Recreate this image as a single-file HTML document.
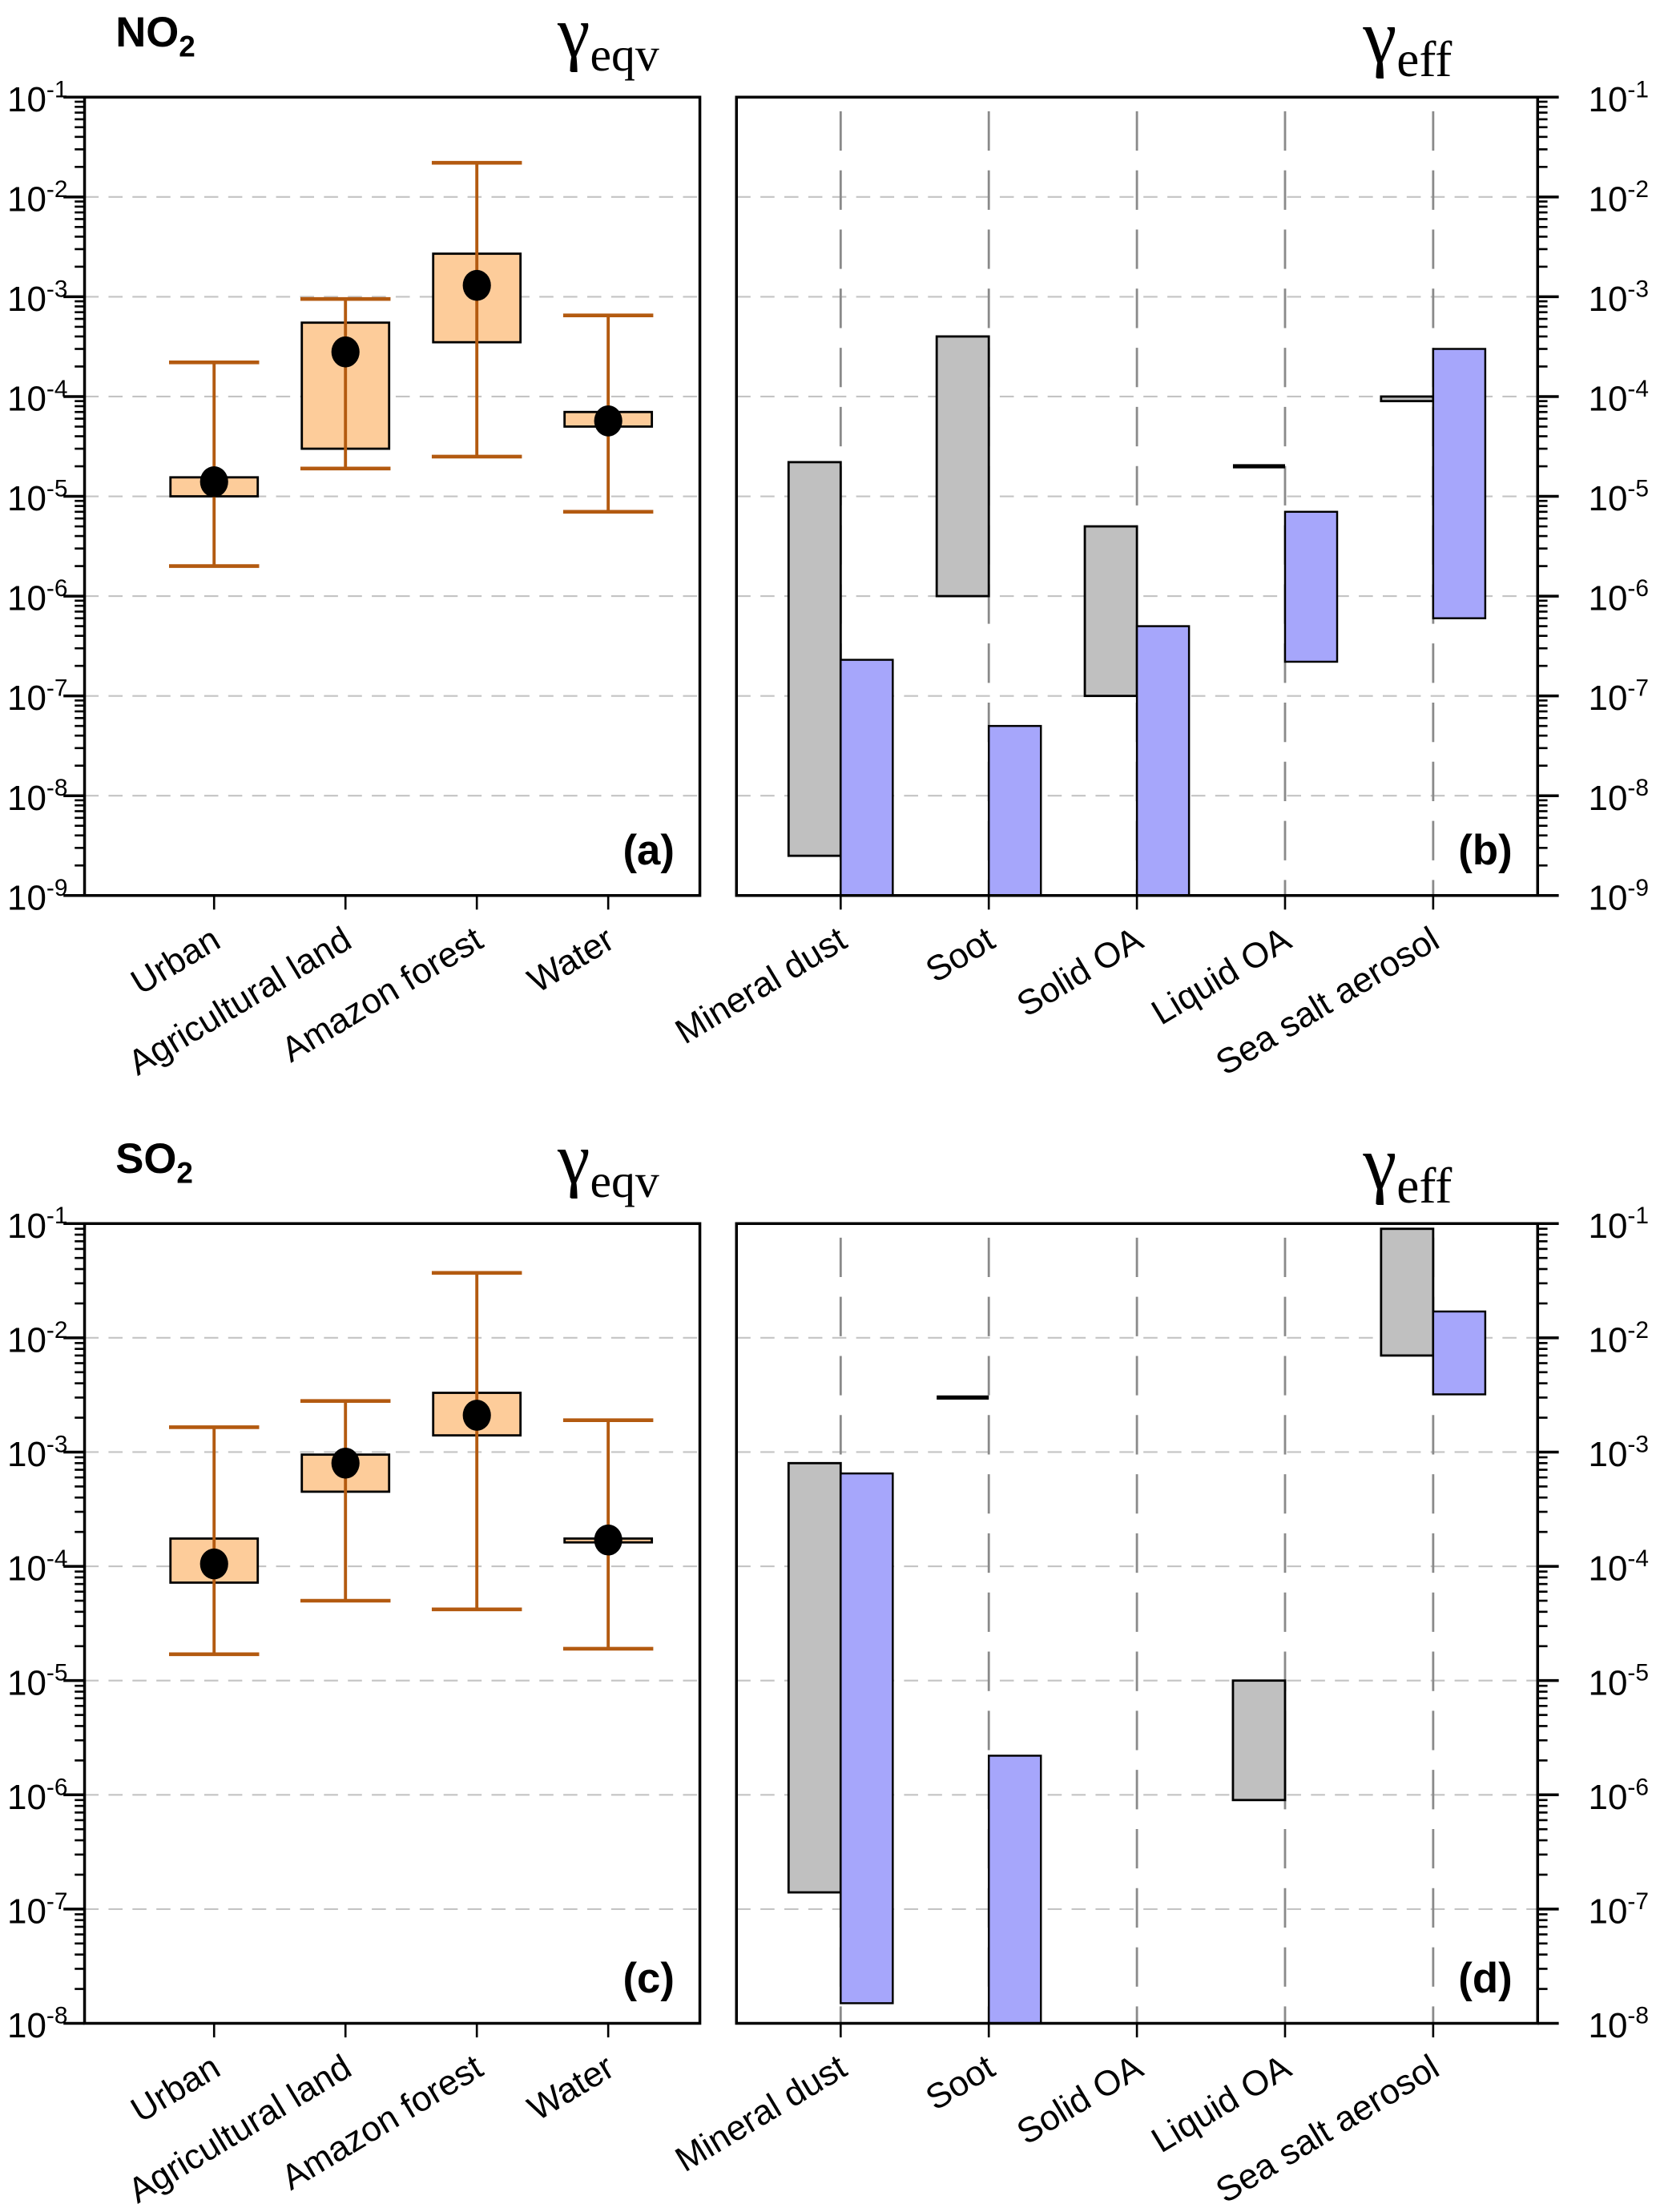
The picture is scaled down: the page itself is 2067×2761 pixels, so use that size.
<!DOCTYPE html>
<html><head><meta charset="utf-8">
<style>
html,body{margin:0;padding:0;background:#fff;}
svg{display:block;}
</style></head>
<body>
<svg id="fig" xmlns="http://www.w3.org/2000/svg" width="2067" height="2761" viewBox="0 0 1176 1571" font-family="Liberation Sans, sans-serif">
<rect x="0" y="0" width="1176" height="1571" fill="#fff"/>
<text x="82" y="33" font-size="30" font-weight="bold">NO<tspan font-size="21" dy="7">2</tspan></text>
<text x="396" y="40" font-size="52" font-family="Liberation Serif, serif">γ<tspan font-size="34" dy="10">eqv</tspan></text>
<text x="968" y="44" font-size="54" font-family="Liberation Serif, serif">γ<tspan font-size="36" dy="10">eff</tspan></text>
<text x="82" y="833" font-size="30" font-weight="bold">SO<tspan font-size="21" dy="7">2</tspan></text>
<text x="396" y="840" font-size="52" font-family="Liberation Serif, serif">γ<tspan font-size="34" dy="10">eqv</tspan></text>
<text x="968" y="844" font-size="54" font-family="Liberation Serif, serif">γ<tspan font-size="36" dy="10">eff</tspan></text>
</svg>
<script>
// ---- data ----
const catsEnv = ["Urban","Agricultural land","Amazon forest","Water"];
const catsAer = ["Mineral dust","Soot","Solid OA","Liquid OA","Sea salt aerosol"];
// NO2 gamma_eqv
const no2WhiskHi = [2.2e-4, 9.5e-4, 2.2e-2, 6.5e-4];
const no2WhiskLo = [2e-6, 1.9e-5, 2.5e-5, 7e-6];
const no2BoxHi = [1.55e-5, 5.5e-4, 2.7e-3, 7e-5];
const no2BoxLo = [1e-5, 3e-5, 3.5e-4, 5e-5];
const no2Mean = [1.4e-5, 2.8e-4, 1.3e-3, 5.7e-5];
// NO2 gamma_eff (null = no bar)
const no2GreyHi = [2.2e-5, 4e-4, 5e-6, 2e-5, 1.0e-4];
const no2GreyLo = [2.5e-9, 1e-6, 1e-7, 2e-5, 9e-5];
const no2BlueHi = [2.3e-7, 5e-8, 5e-7, 7e-6, 3e-4];
const no2BlueLo = [1e-9, 1e-9, 1e-9, 2.2e-7, 6e-7];
// SO2 gamma_eqv
const so2WhiskHi = [1.65e-3, 2.8e-3, 3.7e-2, 1.9e-3];
const so2WhiskLo = [1.7e-5, 5e-5, 4.2e-5, 1.9e-5];
const so2BoxHi = [1.75e-4, 9.5e-4, 3.3e-3, 1.75e-4];
const so2BoxLo = [7.2e-5, 4.5e-4, 1.4e-3, 1.62e-4];
const so2Mean = [1.05e-4, 8e-4, 2.1e-3, 1.7e-4];
// SO2 gamma_eff
const so2GreyHi = [8e-4, 3e-3, null, 1e-5, 9e-2];
const so2GreyLo = [1.4e-7, 3e-3, null, 9e-7, 7e-3];
const so2BlueHi = [6.5e-4, 2.2e-6, null, null, 1.7e-2];
const so2BlueLo = [1.5e-8, 1e-8, null, null, 3.2e-3];
const topExps = [-1,-2,-3,-4,-5,-6,-7,-8,-9];
const botExps = [-1,-2,-3,-4,-5,-6,-7,-8];

const NS = "http://www.w3.org/2000/svg";
const svg = document.getElementById("fig");
function mk(tag, attrs, parent){
  const e = document.createElementNS(NS, tag);
  for (const k in attrs) e.setAttribute(k, attrs[k]);
  (parent||svg).appendChild(e);
  return e;
}
function logScale(top, bot, emax, emin){
  return v => top + (emax - Math.log10(v)) / (emax - emin) * (bot - top);
}
function catScale(x0, pad, step){
  return i => x0 + pad + step * i;
}
function supLabel(x, y, e, anchor, name){
  const t = mk("text", {x:x, y:y, "font-size":25, "text-anchor":anchor});
  
  
  t.textContent = "10";
  const s = mk("tspan", {"font-size":17, dy:-10}, t);
  s.textContent = String(e);
}
function panel(opt){
  const {x0,x1,top,bot,exps,side,cats,tag,prefix,pad,step} = opt;
  const emax = exps[0], emin = exps[exps.length-1];
  const y = logScale(top, bot, emax, emin);
  const g = mk("g", {});
  
  
  exps.forEach(e => {
    const ln = mk("line", {x1:x0, x2:x1, y1:y(Math.pow(10,e)), y2:y(Math.pow(10,e)), stroke:"#c4c4c4", "stroke-width":1.2, "stroke-dasharray":"10,7"}, g);
    
    
  });
  const xc = catScale(x0, pad, step);
  if (opt.vlines){
    cats.forEach((c,i) => {
      const vl = mk("line", {x1:xc(i), x2:xc(i), y1:top, y2:bot, stroke:"#8a8a8a", "stroke-width":1.6, "stroke-dasharray":"28,14", "stroke-dashoffset":"-10"}, g);
      
      
    });
  }
  const ax = side === "left" ? x0 : x1;
  const dir = side === "left" ? -1 : 1;
  for (let e = emax; e >= emin; e--){
    const yy = y(Math.pow(10,e));
    const mj = mk("line", {x1:ax, x2:ax+dir*15, y1:yy, y2:yy, stroke:"#000", "stroke-width":2}, g);
    
    
    supLabel(side === "left" ? ax-12 : ax+36, yy+10, e, side === "left" ? "end" : "start", 'y-tick-label');
    if (e > emin){
      for (let k = 2; k <= 9; k++){
        const ym = y(k*Math.pow(10,e-1));
        const mn = mk("line", {x1:ax, x2:ax+dir*7, y1:ym, y2:ym, stroke:"#000", "stroke-width":1.5}, g);
        
        
      }
    }
  }
  cats.forEach((c,i) => {
    const xt = mk("line", {x1:xc(i), x2:xc(i), y1:bot, y2:bot+10, stroke:"#000", "stroke-width":1.5}, g);
    
    
    const lx = xc(i)+6, ly = bot+36;
    const t = mk("text", {x:lx, y:ly, "font-size":25, "text-anchor":"end", transform:"rotate(-31 "+lx+" "+ly+")"}, g);
    
    
    t.textContent = c;
  });
  const tt = mk("text", {x:x1-18, y:bot-22, "font-size":30, "font-weight":"bold", "text-anchor":"end"}, g);
  
  
  tt.textContent = tag;
  return {g, y, xc};
}
function frame(g, x0, x1, top, bot){
  const f = mk("rect", {x:x0, y:top, width:x1-x0, height:bot-top, fill:"none", stroke:"#000", "stroke-width":2}, g);
  
  
}
function boxPanel(p, hiW, loW, hiB, loB, mean, names){
  const brown = "#b35a10";
  names.forEach((c,i) => {
    const cx = p.xc(i);
    const b = mk("rect", {x:cx-31, y:p.y(hiB[i]), width:62, height:p.y(loB[i])-p.y(hiB[i]), fill:"#fdcc9a", stroke:"#000", "stroke-width":1.6}, p.g);
    
    
    const w = mk("line", {x1:cx, x2:cx, y1:p.y(hiW[i]), y2:p.y(loW[i]), stroke:brown, "stroke-width":2.2}, p.g);
    
    
    [hiW[i], loW[i]].forEach(v => {
      const cap = mk("line", {x1:cx-32, x2:cx+32, y1:p.y(v), y2:p.y(v), stroke:brown, "stroke-width":2.6}, p.g);
      
      
    });
    const d = mk("ellipse", {cx:cx, cy:p.y(mean[i]), rx:10, ry:11, fill:"#000"}, p.g);
    
    
  });
}
function barPanel(p, gH, gL, bH, bL, names){
  names.forEach((c,i) => {
    const cx = p.xc(i);
    if (gH[i] != null){
      const h = p.y(gL[i]) - p.y(gH[i]);
      if (h < 1){
        const r = mk("line", {x1:cx-37, x2:cx, y1:p.y(gH[i]), y2:p.y(gH[i]), stroke:"#000", "stroke-width":3}, p.g);
        
        
      } else {
        const r = mk("rect", {x:cx-37, y:p.y(gH[i]), width:37, height:h, fill:"#c0c0c0", stroke:"#000", "stroke-width":1.6}, p.g);
        
        
      }
    }
    if (bH[i] != null){
      const r = mk("rect", {x:cx, y:p.y(bH[i]), width:37, height:p.y(bL[i])-p.y(bH[i]), fill:"#a6a6fb", stroke:"#000", "stroke-width":1.4}, p.g);
      
      
    }
  });
}
const pa = panel({x0:60,x1:497,top:69,bot:636,exps:topExps,side:"left",cats:catsEnv,tag:"(a)",prefix:"a",pad:92,step:93.3});
boxPanel(pa, no2WhiskHi, no2WhiskLo, no2BoxHi, no2BoxLo, no2Mean, catsEnv);
frame(pa.g,60,497,69,636);
const pb = panel({x0:523,x1:1092,top:69,bot:636,exps:topExps,side:"right",cats:catsAer,tag:"(b)",prefix:"b",vlines:true,pad:74,step:105.2});
barPanel(pb, no2GreyHi, no2GreyLo, no2BlueHi, no2BlueLo, catsAer);
frame(pb.g,523,1092,69,636);
const pc = panel({x0:60,x1:497,top:869,bot:1437,exps:botExps,side:"left",cats:catsEnv,tag:"(c)",prefix:"c",pad:92,step:93.3});
boxPanel(pc, so2WhiskHi, so2WhiskLo, so2BoxHi, so2BoxLo, so2Mean, catsEnv);
frame(pc.g,60,497,869,1437);
const pd = panel({x0:523,x1:1092,top:869,bot:1437,exps:botExps,side:"right",cats:catsAer,tag:"(d)",prefix:"d",vlines:true,pad:74,step:105.2});
barPanel(pd, so2GreyHi, so2GreyLo, so2BlueHi, so2BlueLo, catsAer);
frame(pd.g,523,1092,869,1437);
</script>
</body></html>
